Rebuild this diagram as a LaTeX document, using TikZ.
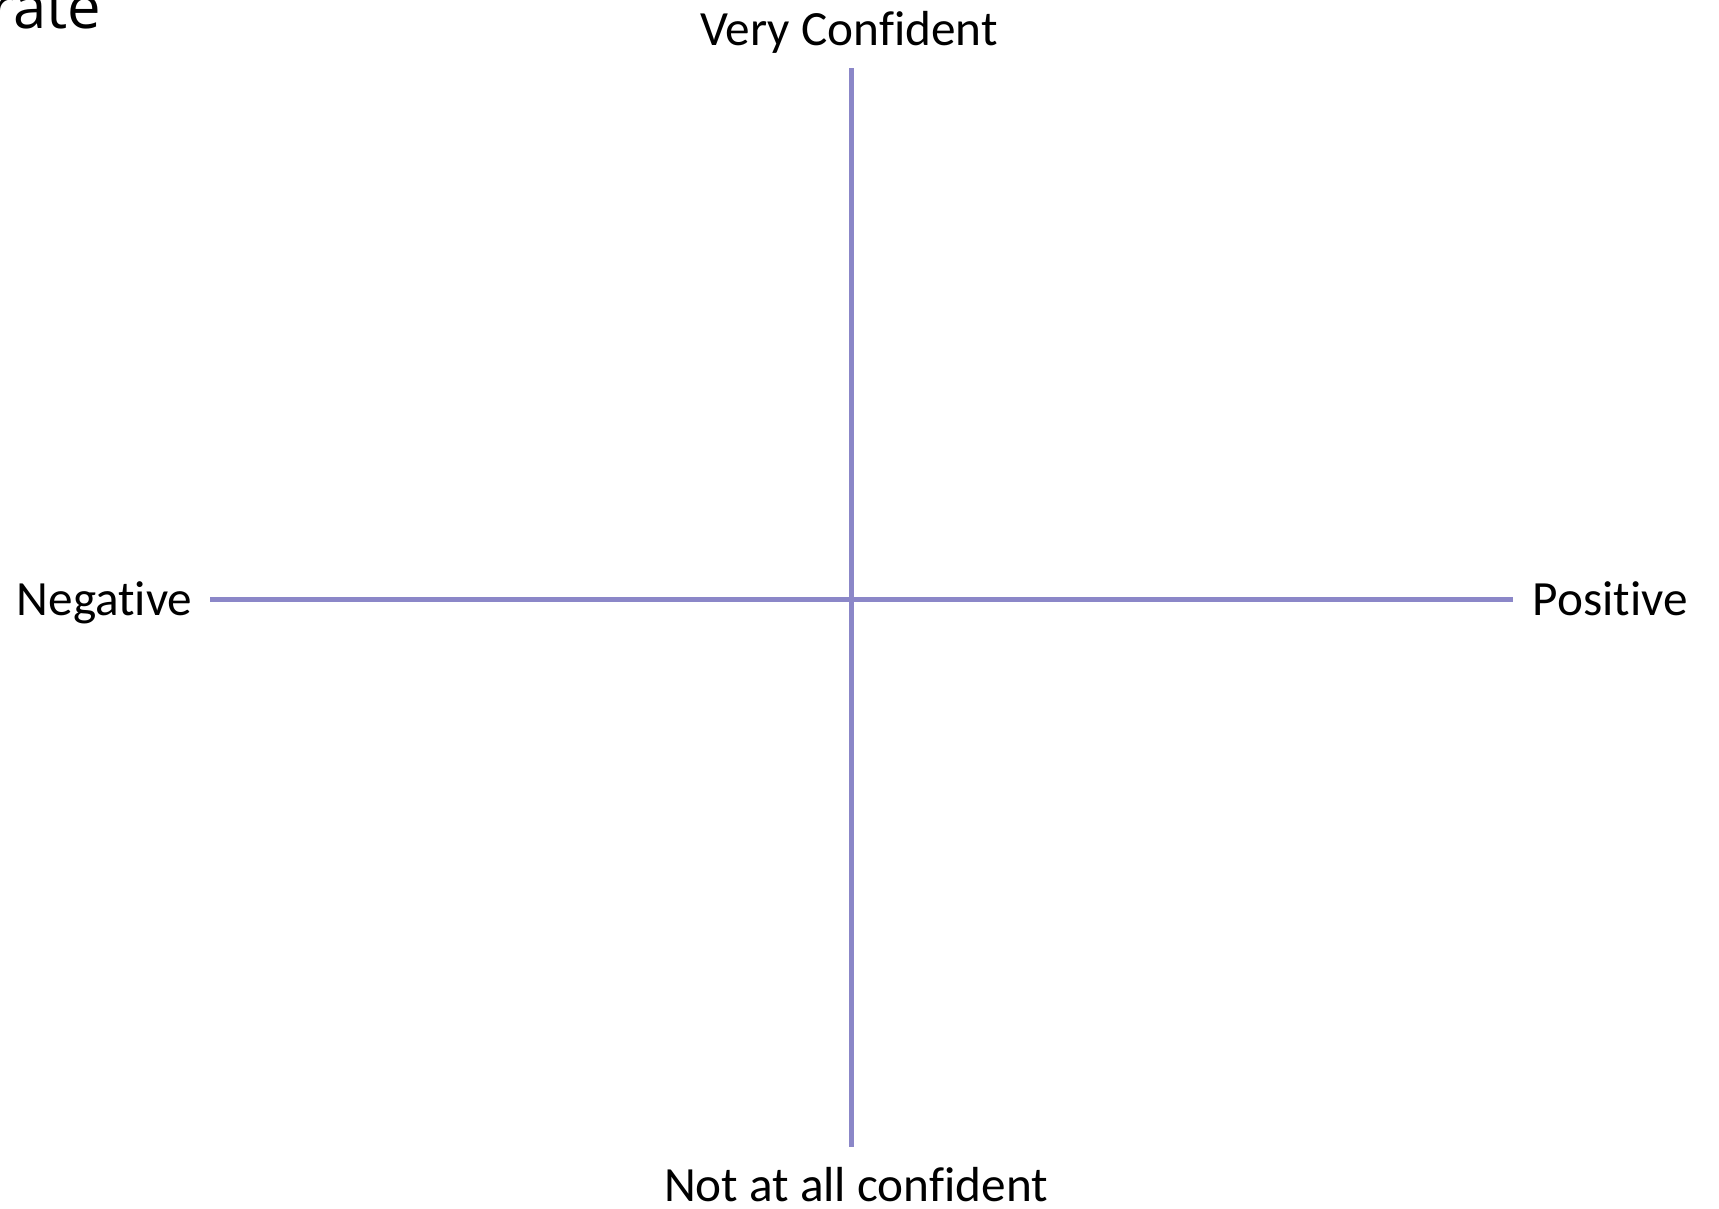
\documentclass[tikz,border=0pt]{standalone}
\usepackage{fontspec}
\setmainfont{Carlito}[Ligatures=NoCommon,RawFeature={-liga;-clig;-calt}]
\newfontfamily\titlefont{Open Sans}
\definecolor{axiscol}{RGB}{139,135,200}
\begin{document}
\begin{tikzpicture}[x=0.01cm,y=-0.01cm,
  axis/.style={draw=axiscol,line width=0.05cm},
  lbl/.style={inner sep=0pt,font=\fontsize{14pt}{17pt}\selectfont}]
\useasboundingbox (0,0) rectangle (1719,1208);
\node[inner sep=0pt,anchor=base east,font=\titlefont\fontsize{17pt}{20pt}\selectfont] (title) at (102,28) {rate};
\coordinate (top) at (851,68);
\coordinate (bot) at (851,1147);
\coordinate (lft) at (210,599);
\coordinate (rgt) at (1513,599);
\draw[axis] (top) -- (bot);
\draw[axis] (lft) -- (rgt);
\node[lbl,anchor=base] (vc) at (849,45) {Very Confident};
\node[lbl,anchor=base west] (neg) at (16,615) {Negative};
\node[lbl,anchor=base west] (pos) at (1532,615) {Positive};
\node[lbl,anchor=base] (nc) at (856,1201) {Not at all confident};
\end{tikzpicture}
\end{document}
